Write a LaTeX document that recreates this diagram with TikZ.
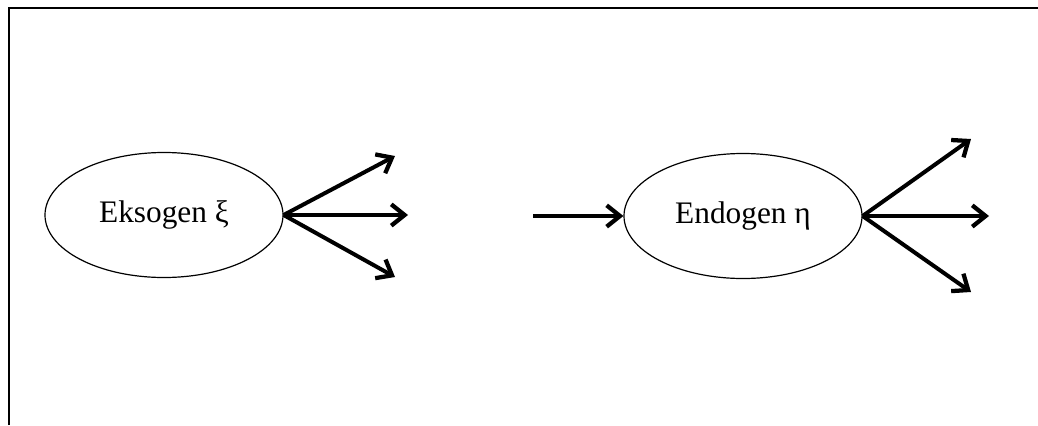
\documentclass[tikz,border=0pt]{standalone}
\usepackage{fontspec}
\setmainfont{Liberation Serif}
\usetikzlibrary{arrows.meta,shapes.geometric}
\begin{document}
\begin{tikzpicture}[x=0.75pt,y=-0.75pt,
  latent/.style={ellipse,draw,line width=0.9pt,minimum width=238*0.75pt,minimum height=125*0.75pt,inner sep=0pt,font=\fontsize{23.5}{27}\selectfont},
  arr/.style={line width=3pt,-{Straight Barb[length=10pt,width=16pt,line width=3.2pt]}},
  frame/.style={line width=1.5pt}]
\useasboundingbox (0,0) rectangle (1038,425);
\draw[frame] (9,425) -- (9,7.5) -- (1038,7.5);
\node[latent] (ex) at (164,215) {Eksogen ξ};
\node[latent] (en) at (743,216) {Endogen η};
\coordinate (a1) at (395,156);
\coordinate (a2) at (408,215);
\coordinate (a3) at (395,277);
\coordinate (in) at (533,216);
\coordinate (b1) at (971,139);
\coordinate (b2) at (989,216);
\coordinate (b3) at (971,292);
\draw[arr] (ex.east) -- (a1);
\draw[arr] (ex.east) -- (a2);
\draw[arr] (ex.east) -- (a3);
\draw[arr] (in) -- (en.west);
\draw[arr] (en.east) -- (b1);
\draw[arr] (en.east) -- (b2);
\draw[arr] (en.east) -- (b3);
\end{tikzpicture}
\end{document}
